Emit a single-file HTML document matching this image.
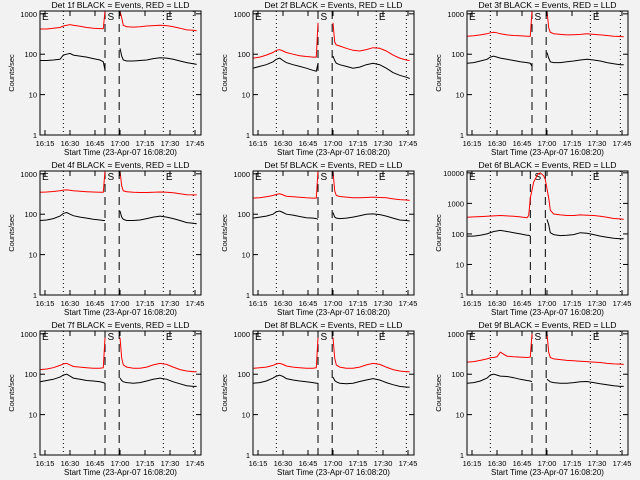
<!DOCTYPE html>
<html><head><meta charset="utf-8"><style>
body{margin:0;background:#f2f2f2;width:640px;height:480px;overflow:hidden}
svg{display:block;font-family:"Liberation Sans",sans-serif}
</style></head><body>
<svg id="c" width="640" height="480"></svg>
<script>
const times=[12,16,20,24,26,28,30,32,36,40,44,48,50,51,null,60,61,62,64,68,72,76,80,84,88,92,96,100,104,106];
const times6=[12,16,20,24,28,32,36,40,44,48,49,50,52,54,55,56,58,59,60,61,62,64,68,72,76,80,84,88,92,96,100,104,106];
const xTickLabels=["16:15","16:30","16:45","17:00","17:15","17:30","17:45"];
const xTickMins=[15,30,45,60,75,90,105];
const black1=[70,70,72,75,95,100,105,95,90,85,78,72,65,40,null,140,90,72,68,68,70,72,78,82,80,75,68,62,58,56];
const red1=[420,420,440,460,500,520,540,520,490,460,440,430,430,1500,null,1500,800,520,480,470,480,500,510,520,510,480,440,400,390,380];
const black2=[45,50,55,65,75,80,70,62,55,50,45,40,38,60,null,90,70,60,55,50,45,48,55,60,55,45,35,30,27,25];
const red2=[80,85,95,110,125,130,120,110,100,92,88,85,85,600,null,600,200,170,160,140,125,120,130,145,140,120,95,80,72,70];
const black3=[60,62,68,75,85,90,85,80,75,70,65,62,60,50,null,110,80,65,62,62,65,68,72,75,72,68,62,58,55,55];
const red3=[280,285,300,320,340,350,340,320,300,290,285,280,280,1500,null,1500,450,350,320,310,300,305,310,320,310,300,290,280,275,270];
const black4=[70,72,78,90,105,110,100,92,85,80,75,72,70,70,null,120,85,75,70,70,72,78,85,90,85,78,70,62,60,58];
const red4=[350,355,365,380,395,400,390,380,370,360,355,350,350,1500,null,1500,500,380,360,350,345,345,350,355,350,340,320,305,300,300];
const black5=[80,85,90,100,115,120,110,100,95,88,82,80,78,75,null,110,85,80,78,80,85,92,100,102,98,90,80,72,70,68];
const red5=[250,255,270,290,310,320,300,280,270,262,255,250,250,1500,null,1500,380,290,275,265,255,255,260,265,260,255,240,230,225,220];
const black6=[85,85,90,100,120,130,120,110,100,90,90,85,null,null,null,null,null,null,300,200,110,95,88,90,95,110,105,95,85,78,72,70,70];
const red6=[350,360,370,380,390,400,390,380,360,340,400,1500,5000,8000,9500,10000,8000,6000,3000,1500,600,450,420,400,400,420,410,400,380,350,320,310,300];
const black7=[65,70,75,85,95,100,90,80,75,70,68,65,62,60,null,80,70,65,62,60,62,68,75,80,75,65,58,52,50,50];
const red7=[130,135,145,165,180,185,170,155,150,145,140,140,145,800,null,800,250,170,150,140,140,150,170,185,175,150,130,120,115,115];
const black8=[60,62,68,80,90,95,88,78,72,68,65,62,60,60,null,85,70,65,60,58,60,66,72,78,72,62,55,50,48,48];
const red8=[140,145,150,165,180,185,175,160,150,145,140,140,145,800,null,800,250,170,150,140,140,150,170,185,175,150,130,120,115,115];
const black9=[60,62,68,80,95,100,95,90,88,82,75,70,68,65,null,75,70,65,62,60,60,62,65,66,62,58,55,52,50,50];
const red9=[200,205,220,240,255,260,270,350,280,270,265,260,265,1000,null,1000,350,260,240,230,220,215,210,205,200,195,185,180,178,175];
const panels=[
 {n:"1f",t:times,b:black1,r:red1,max:1175},{n:"2f",t:times,b:black2,r:red2,max:1175},{n:"3f",t:times,b:black3,r:red3,max:1175},
 {n:"4f",t:times,b:black4,r:red4,max:1175},{n:"5f",t:times,b:black5,r:red5,max:1175},{n:"6f",t:times6,b:black6,r:red6,max:11500},
 {n:"7f",t:times,b:black7,r:red7,max:1175},{n:"8f",t:times,b:black8,r:red8,max:1175},{n:"9f",t:times,b:black9,r:red9,max:1175}];
const svg=document.getElementById('c');const NS="http://www.w3.org/2000/svg";
function mk(tag,attrs,parent,txt){const e=document.createElementNS(NS,tag);for(const k in attrs)e.setAttribute(k,attrs[k]);if(txt!=null)e.textContent=txt;parent.appendChild(e);return e;}
const colX=[40,253,467],rowY=[11,171,331],W=161,H=124,T0=12,T1=108.6;
panels.forEach((p,i)=>{
 const x0=colX[i%3],y0=rowY[Math.floor(i/3)];
 const g=mk('g',{},svg);
 
 
 const sx=m=>x0+(m-T0)/(T1-T0)*W;
 const sy=v=>y0+H-Math.log10(v)/Math.log10(p.max)*H;
 const tt=mk('text',{x:x0+W/2,y:y0-3,'font-size':8.6,'text-anchor':'middle',fill:'#000'},g,'Det '+p.n+' BLACK = Events, RED = LLD');
 
 
 [26,86,104].forEach(m=>mk('line',{x1:sx(m),x2:sx(m),y1:y0,y2:y0+H,stroke:'#000','stroke-dasharray':'1,3'},g));
 const dash=i==5?[50,59]:[51,59.5];
 dash.forEach(m=>mk('line',{x1:sx(m),x2:sx(m),y1:y0,y2:y0+H,stroke:'#000','stroke-dasharray':'8,5'},g));
 mk('text',{x:x0+2,y:y0+9,'font-size':10},g,'E');
 mk('text',{x:sx(87.5),y:y0+9,'font-size':10},g,'E');
 mk('text',{x:sx(52.5),y:y0+9,'font-size':10},g,'S');
 [[p.b,'#000','black-events-line'],[p.r,'#ff0000','red-lld-line']].forEach(([arr,col,nm])=>{
  let d='',pen=false;
  arr.forEach((v,k)=>{if(v==null||p.t[k]==null){pen=false;return;}
   const X=sx(p.t[k]).toFixed(1),Y=Math.max(y0,sy(v)).toFixed(1);d+=(pen?'L':'M')+X+' '+Y;pen=true;});
  const pa=mk('path',{d:d,fill:'none',stroke:col,'stroke-width':1},g);
  
  
 });
 mk('rect',{x:x0,y:y0,width:W,height:H,fill:'none',stroke:'#000'},g);
 const dec=p.max>5000?[1,10,100,1000,10000]:[1,10,100,1000];
 dec.forEach(v=>{const Y=sy(v);mk('line',{x1:x0,x2:x0+5,y1:Y,y2:Y,stroke:'#000'},g);mk('line',{x1:x0+W-5,x2:x0+W,y1:Y,y2:Y,stroke:'#000'},g);
  mk('text',{x:x0-3,y:Y+3,'font-size':7.5,'text-anchor':'end'},g,String(v));});
 xTickMins.forEach((m,k)=>{const X=sx(m);mk('line',{x1:X,x2:X,y1:y0+H-5,y2:y0+H,stroke:'#000'},g);mk('line',{x1:X,x2:X,y1:y0,y2:y0+5,stroke:'#000'},g);
  mk('text',{x:X,y:y0+H+11,'font-size':7.5,'text-anchor':'middle'},g,xTickLabels[k]);});
 const xt=mk('text',{x:x0+W/2,y:y0+H+20,'font-size':8,'text-anchor':'middle'},g,'Start Time (23-Apr-07 16:08:20)');
 
 
 const yt=mk('text',{x:0,y:0,'font-size':7.5,'text-anchor':'middle',transform:`translate(${x0-26},${y0+H/2}) rotate(-90)`},g,'Counts/sec');
 
 
});
</script>
</body></html>
